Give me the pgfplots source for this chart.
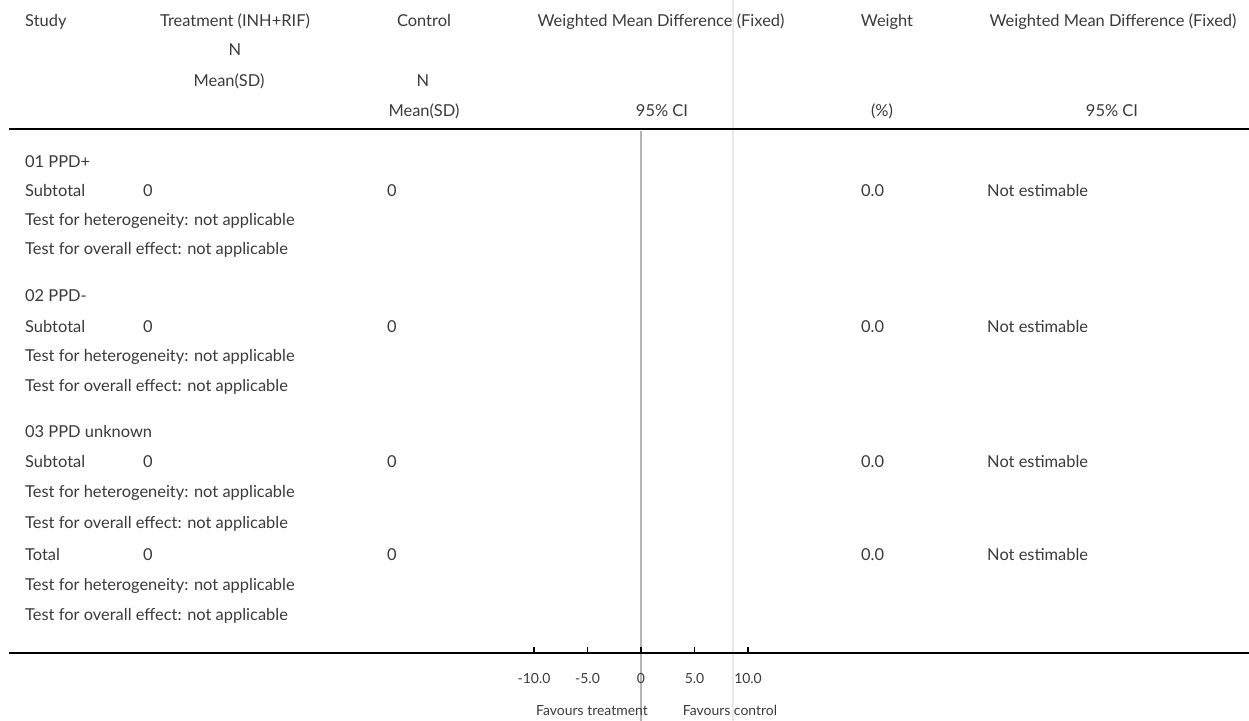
\documentclass[border=0pt]{standalone}
\usepackage{pgfplots}
\pgfplotsset{compat=1.18}
\usepackage{fontspec}
\setmainfont{Lato}
\definecolor{txt}{HTML}{3A3A3A}
\definecolor{zeroline}{HTML}{B4B4B4}
\definecolor{faint}{HTML}{E8E8E8}

% main text size and the smaller size under the scale
\newcommand{\mainsz}{\fontsize{16.5}{19}\selectfont}
\newcommand{\smallsz}{\fontsize{14}{16}\selectfont}

% one summary row: label, N treatment, N control, weight, estimate
\newcommand{\sumrow}[2]{%
  \node[anchor=base west] at (axis cs:25,#2) {#1};
  \node[anchor=base] at (axis cs:148,#2) {0};
  \node[anchor=base] at (axis cs:392,#2) {0};
  \node[anchor=base west] at (axis cs:861,#2) {0.0};
  \node[anchor=base west] at (axis cs:987,#2) {Not estimable};}
\newcommand{\leftrow}[2]{\node[anchor=base west] at (axis cs:25,#2) {#1};}

\begin{document}
\begin{tikzpicture}[x=1bp,y=1bp]
\useasboundingbox (0,0) rectangle (1249,721);

% ---- table layer: coordinates in points from the top-left corner ----
\begin{axis}[at={(0bp,0bp)}, anchor=south west,
  width=1249bp, height=721bp, scale only axis,
  xmin=0, xmax=1249, ymin=0, ymax=721, y dir=reverse,
  hide axis, clip=false]

  % faint separator and line of no effect
  \addplot[faint, line width=1.8bp] coordinates {(733,0) (733,721)};
  \addplot[zeroline, line width=1.5bp] coordinates {(641,131) (641,721)};
  % heading rule
  \addplot[black, line width=2.8bp] coordinates {(9,129) (1249,129)};

  \begin{scope}[every node/.style={font=\mainsz, text=txt, inner sep=0pt}]
  % column headings
  \node[anchor=base west] at (axis cs:25,27) {Study};
  \node[anchor=base] at (axis cs:235,27) {Treatment (INH+RIF)};
  \node[anchor=base] at (axis cs:235,56) {N};
  \node[anchor=base] at (axis cs:229,87) {Mean(SD)};
  \node[anchor=base] at (axis cs:424,27) {Control};
  \node[anchor=base] at (axis cs:423,87) {N};
  \node[anchor=base] at (axis cs:424,117) {Mean(SD)};
  \node[anchor=base] at (axis cs:661,27) {Weighted Mean Difference (Fixed)};
  \node[anchor=base] at (axis cs:662,117) {95\% CI};
  \node[anchor=base] at (axis cs:887,27) {Weight};
  \node[anchor=base] at (axis cs:882,117) {(\%)};
  \node[anchor=base] at (axis cs:1113,27) {Weighted Mean Difference (Fixed)};
  \node[anchor=base] at (axis cs:1112,117) {95\% CI};

  % body rows
  \leftrow{01 PPD+}{168}
  \sumrow{Subtotal}{197}
  \leftrow{Test for heterogeneity: not applicable}{226}
  \leftrow{Test for overall effect: not applicable}{255}
  \leftrow{02 PPD-}{302}
  \sumrow{Subtotal}{333}
  \leftrow{Test for heterogeneity: not applicable}{362}
  \leftrow{Test for overall effect: not applicable}{392}
  \leftrow{03 PPD unknown}{438}
  \sumrow{Subtotal}{468}
  \leftrow{Test for heterogeneity: not applicable}{498}
  \leftrow{Test for overall effect: not applicable}{528}
  \sumrow{Total}{560}
  \leftrow{Test for heterogeneity: not applicable}{590}
  \leftrow{Test for overall effect: not applicable}{620}

  % scale captions
  \node[anchor=base, font=\smallsz] at (axis cs:592,715) {Favours treatment};
  \node[anchor=base, font=\smallsz] at (axis cs:730,715) {Favours control};
  \end{scope}
\end{axis}

% ---- effect scale along the bottom rule ----
\begin{axis}[at={(9bp,68bp)}, anchor=south west,
  width=1240bp, height=40bp, scale only axis,
  xmin=-59.065, xmax=56.822, ymin=0, ymax=1,
  axis x line*=bottom, axis y line=none,
  x axis line style={-, line width=2.8bp, black},
  xtick={-10,-5,0,5,10},
  xticklabels={-10.0,-5.0,0,5.0,10.0},
  tick align=inside, major tick length=6bp,
  tick style={black, line width=1.8bp},
  xticklabel style={font=\smallsz, text=txt, yshift=-17bp},
  /pgf/number format/assume math mode=true]
  \addplot[draw=none] coordinates {(0,0)};
\end{axis}
\end{tikzpicture}
\end{document}
